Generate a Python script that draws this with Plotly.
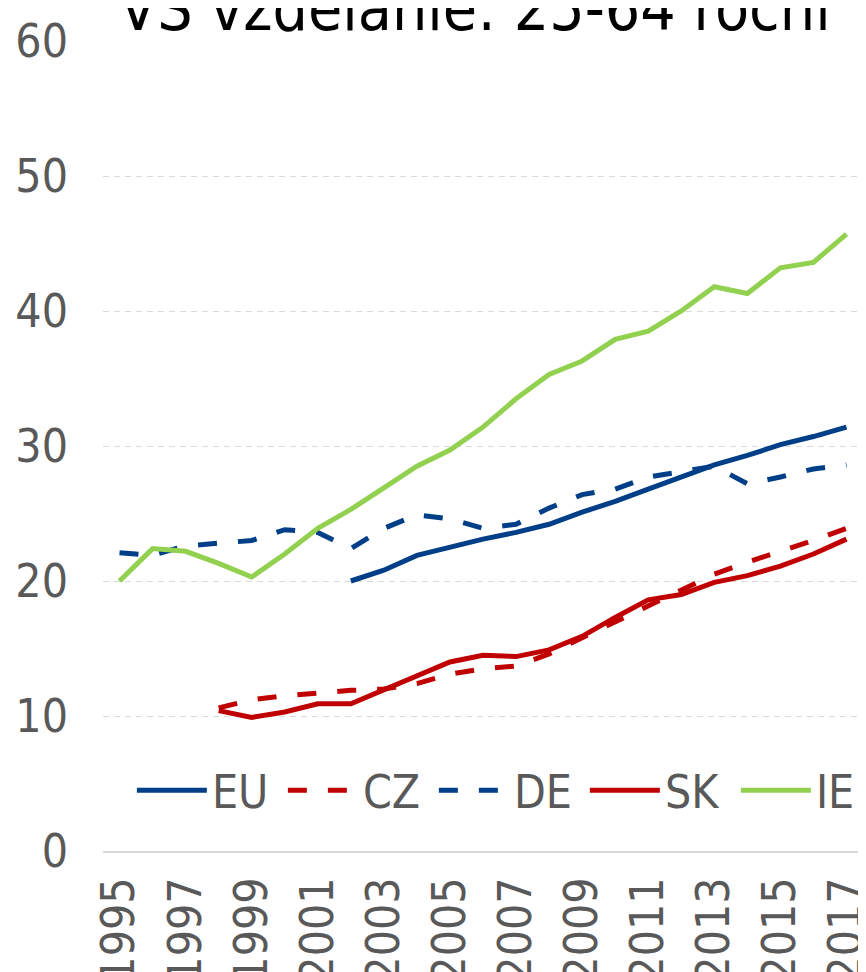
import plotly.graph_objects as go

# values (% of 25-64 year olds with tertiary education)
years = [1995, 1996, 1997, 1998, 1999, 2000, 2001, 2002, 2003, 2004, 2005, 2006,
         2007, 2008, 2009, 2010, 2011, 2012, 2013, 2014, 2015, 2016, 2017]

eu = [None, None, None, None, None, None, None, 20.0, 20.8, 21.9, 22.5, 23.1,
      23.6, 24.2, 25.1, 25.9, 26.8, 27.7, 28.6, 29.3, 30.1, 30.7, 31.4]
cz = [None, None, None, 10.6, 11.2, 11.5, 11.7, 11.9, 12.0, 12.4, 13.1, 13.5,
      13.7, 14.6, 15.8, 17.0, 18.2, 19.3, 20.5, 21.4, 22.2, 23.0, 23.9]
de = [22.1, 21.9, 22.6, 22.8, 23.0, 23.8, 23.6, 22.4, 23.9, 24.9, 24.6, 23.9,
      24.2, 25.4, 26.4, 26.8, 27.7, 28.1, 28.5, 27.2, 27.7, 28.3, 28.6]
sk = [None, None, None, 10.4, 9.9, 10.3, 10.9, 10.9, 11.9, 12.9, 14.0, 14.5,
      14.4, 14.9, 15.9, 17.3, 18.6, 19.0, 19.9, 20.4, 21.1, 22.0, 23.1]
ie = [20.0, 22.4, 22.2, 21.3, 20.3, 22.0, 23.9, 25.3, 26.9, 28.5, 29.7, 31.4,
      33.5, 35.3, 36.3, 37.9, 38.5, 40.0, 41.8, 41.3, 43.2, 43.6, 45.7]

BLUE = "#003f88"
RED = "#c00000"
GREEN = "#92d050"
GREY = "#595959"
FONT = "Tahoma, 'DejaVu Sans Condensed', 'DejaVu Sans', sans-serif"
DASH = "19px,21px"

fig = go.Figure()
series = [
    ("EU", eu, BLUE, "solid"),
    ("CZ", cz, RED, DASH),
    ("DE", de, BLUE, DASH),
    ("SK", sk, RED, "solid"),
    ("IE", ie, GREEN, "solid"),
]
for name, vals, color, dash in series:
    fig.add_trace(go.Scatter(
        x=years, y=vals, name=name, mode="lines",
        line=dict(color=color, width=5, dash=dash),
        connectgaps=False,
    ))

fig.add_annotation(
    text="VS vzdelanie: 25-64 roční",
    xref="paper", yref="paper", x=0.49, y=1,
    xanchor="center", yanchor="bottom", yshift=-6,
    showarrow=False,
    font=dict(family=FONT, size=62, color="black"),
)

# page body adds an 8px offset, margins are set so the plot sits at x 103-863, y 41-851
fig.update_layout(
    width=866, height=972,
    margin=dict(l=95, r=11, t=33, b=129, autoexpand=False),
    paper_bgcolor="white", plot_bgcolor="white",
    font=dict(family=FONT, color=GREY, size=46),
    showlegend=True,
    legend=dict(
        orientation="h", x=0.038, y=0.075, xanchor="left", yanchor="middle",
        font=dict(size=46, color=GREY), bgcolor="rgba(0,0,0,0)",
        itemwidth=70, entrywidth=66, entrywidthmode="pixels",
    ),
)
fig.update_xaxes(
    range=[1994.5, 2017.5], tick0=1995, dtick=2, tickangle=-90,
    showgrid=False, showline=True, linecolor="#d9d9d9", linewidth=2,
    ticks="", ticklabelstandoff=6, zeroline=False, automargin=False,
    ticklabeloverflow="allow",
    tickfont=dict(size=46, color=GREY),
)
fig.update_yaxes(
    range=[0, 60], dtick=10, showgrid=True, gridcolor="#d9d9d9",
    griddash="6px,5px", gridwidth=1, zeroline=False, showline=False,
    ticks="", ticklabelstandoff=34, automargin=False,
    ticklabeloverflow="allow",
    tickfont=dict(size=46, color=GREY),
)

fig.write_html("out.html")
